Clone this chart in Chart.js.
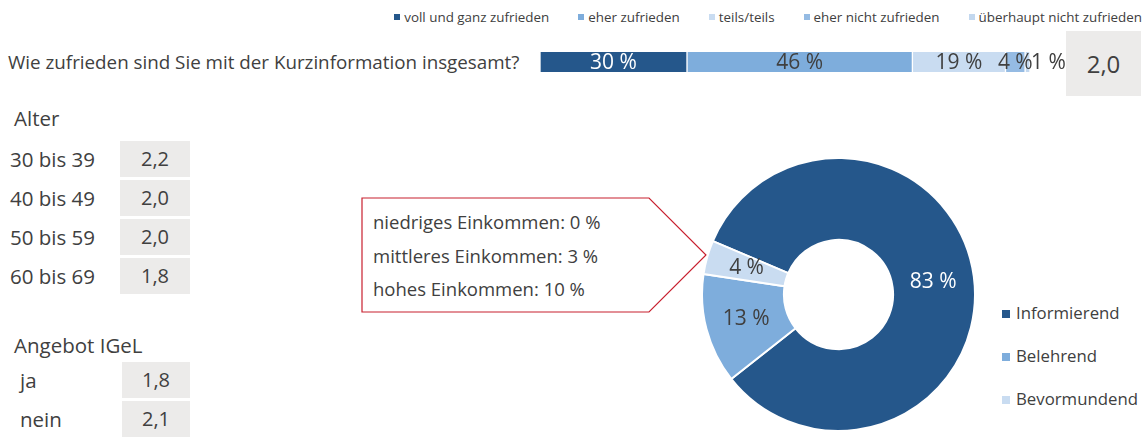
<!DOCTYPE html>
<html lang="de">
<head>
<meta charset="utf-8">
<script src="https://cdn.jsdelivr.net/npm/chart.js@4.4.1/dist/chart.umd.min.js"></script>
<style>
  html, body { margin: 0; padding: 0; background: #fff; }
  body { width: 1144px; height: 440px; position: relative; overflow: hidden;
    font-family: "Open Sans", sans-serif; color: #404040; }
  .abs { position: absolute; white-space: nowrap; }
  .box { position: absolute; background: #ecebea; text-align: center; }
  #topLegend { position: absolute; right: 2px; top: 8px; display: flex; gap: 29px; font-size: 13.4px; line-height: 18px; }
  #topLegend span i, #pieLegend span i { display: inline-block; margin-right: 4px; vertical-align: middle; position: relative; top: -1px; }
  #topLegend span i { width: 6px; height: 6px; }
  #pieLegend { position: absolute; left: 1002px; top: 300px; font-size: 16.8px; }
  #pieLegend span { display: block; height: 43px; line-height: 26px; }
  #pieLegend span i { width: 8px; height: 8px; margin-right: 6px; }
  #barChart { position: absolute; left: 540px; top: 42px; }
  #pieChart { position: absolute; left: 701px; top: 157px; }
  #callout { position: absolute; left: 361px; top: 197px; }
</style>
</head>
<body>
<div id="topLegend"></div>
<div class="abs" id="question" style="left:8px; top:48px; font-size:18.8px; line-height:28px;"></div>
<div class="box" id="meanBox" style="left:1066px; top:31px; width:75px; height:65px; line-height:65px; font-size:24px;"></div>
<canvas id="barChart" width="530" height="40"></canvas>
<div id="table"></div>
<svg id="callout" width="350" height="118">
  <polygon points="1,1 288,1 345,58 288,115 1,115" fill="#fff" stroke="#c8202f" stroke-width="1.2"/>
</svg>
<div id="notes"></div>
<canvas id="pieChart" width="275" height="275"></canvas>
<div id="pieLegend"></div>
<script>
// Gesamtzufriedenheit (gestapelter Balken)
const satCats = ['voll und ganz zufrieden', 'eher zufrieden', 'teils/teils', 'eher nicht zufrieden', 'überhaupt nicht zufrieden'];
const satValues = [30, 46, 19, 4, 1];
const satColors = ['#25578b', '#7eaddc', '#c9dcf1', '#95bbe3', '#c3d8ef'];
const satQuestion = 'Wie zufrieden sind Sie mit der Kurzinformation insgesamt?';
const satMean = '2,0';

// Mittelwerte nach Gruppen
const ageTitle = 'Alter';
const ageGroups = ['30 bis 39', '40 bis 49', '50 bis 59', '60 bis 69'];
const ageMeans = ['2,2', '2,0', '2,0', '1,8'];
const igelTitle = 'Angebot IGeL';
const igelGroups = ['ja', 'nein'];
const igelMeans = ['1,8', '2,1'];

// Art der Information (Donut)
const styleCats = ['Informierend', 'Belehrend', 'Bevormundend'];
const styleValues = [83, 13, 4];
const styleColors = ['#25578b', '#7eaddc', '#c9dcf1'];
const incomeNotes = ['niedriges Einkommen: 0 %', 'mittleres Einkommen: 3 %', 'hohes Einkommen: 10 %'];

Chart.defaults.font.family = '"Open Sans", sans-serif';
Chart.defaults.color = '#404040';

document.getElementById('question').textContent = satQuestion;
document.getElementById('meanBox').textContent = satMean;

document.getElementById('topLegend').innerHTML = satCats.map((c, i) =>
  `<span><i style="background:${satColors[i]}"></i>${c}</span>`).join('');
document.getElementById('pieLegend').innerHTML = styleCats.map((c, i) =>
  `<span><i style="background:${styleColors[i]}"></i>${c}</span>`).join('');

// linke Tabelle
let html = '';
const title = (t, y) => { html += `<div class="abs" style="left:14px; top:${y - 14}px; font-size:20.5px; line-height:28px;">${t}</div>`; };
const rows = (labels, vals, y0, lx, bx) => labels.forEach((l, i) => {
  const y = y0 + i * 39;
  html += `<div class="abs" style="left:${lx}px; top:${y}px; font-size:20.5px; line-height:36px;">${l}</div>`;
  html += `<div class="box" style="left:${bx}px; top:${y}px; width:${190 - bx}px; height:36px; line-height:36px; font-size:20px;">${vals[i]}</div>`;
});
title(ageTitle, 118);
rows(ageGroups, ageMeans, 141, 10, 120);
title(igelTitle, 345);
rows(igelGroups, igelMeans, 362, 20, 122);
document.getElementById('table').innerHTML = html;

document.getElementById('notes').innerHTML = incomeNotes.map((t, i) =>
  `<div class="abs" style="left:373px; top:${208 + i * 33.5}px; font-size:18.5px; line-height:28px;">${t}</div>`).join('');

const barLabels = {
  id: 'barLabels',
  afterDatasetsDraw(chart) {
    const { ctx } = chart;
    ctx.save();
    ctx.font = '21px "Open Sans"';
    ctx.textBaseline = 'middle';
    const n = chart.data.datasets.length;
    chart.data.datasets.forEach((ds, i) => {
      const el = chart.getDatasetMeta(i).data[0];
      const txt = ds.data[0] + ' %';
      ctx.fillStyle = i === 0 ? '#fff' : '#404040';
      if (i === n - 1) { ctx.textAlign = 'left'; ctx.fillText(txt, el.x + 1, el.y + 1); }
      else { ctx.textAlign = 'center'; ctx.fillText(txt, (el.x + el.base) / 2, el.y + 1); }
    });
    ctx.restore();
  },
};

new Chart(document.getElementById('barChart'), {
  type: 'bar',
  data: {
    labels: [''],
    datasets: satCats.map((c, i) => ({
      label: c, data: [satValues[i]], backgroundColor: satColors[i],
      borderColor: '#fff', borderWidth: { left: 1, right: 1, top: 0, bottom: 0 }, borderSkipped: false,
      barThickness: 20,
    })),
  },
  options: {
    indexAxis: 'y', responsive: false, animation: false, devicePixelRatio: 1,
    layout: { padding: { left: 0, right: 40, top: 0, bottom: 0 } },
    plugins: { legend: { display: false }, tooltip: { enabled: false } },
    scales: {
      x: { stacked: true, min: 0, max: 100, display: false },
      y: { stacked: true, display: false },
    },
  },
  plugins: [barLabels],
});

const arcLabels = {
  id: 'arcLabels',
  afterDatasetsDraw(chart) {
    const { ctx } = chart;
    ctx.save();
    ctx.font = '21px "Open Sans"';
    ctx.textAlign = 'center'; ctx.textBaseline = 'middle';
    chart.getDatasetMeta(0).data.forEach((arc, i) => {
      const p = arc.tooltipPosition();
      ctx.fillStyle = i === 0 ? '#fff' : '#404040';
      ctx.fillText(styleValues[i] + ' %', p.x, p.y);
    });
    ctx.restore();
  },
};

new Chart(document.getElementById('pieChart'), {
  type: 'doughnut',
  data: {
    labels: styleCats,
    datasets: [{ data: styleValues, backgroundColor: styleColors, borderColor: '#fff', borderWidth: 2 }],
  },
  options: {
    responsive: false, animation: false, devicePixelRatio: 1,
    cutout: '40%', rotation: -67,
    plugins: { legend: { display: false }, tooltip: { enabled: false } },
  },
  plugins: [arcLabels],
});
</script>
</body>
</html>
